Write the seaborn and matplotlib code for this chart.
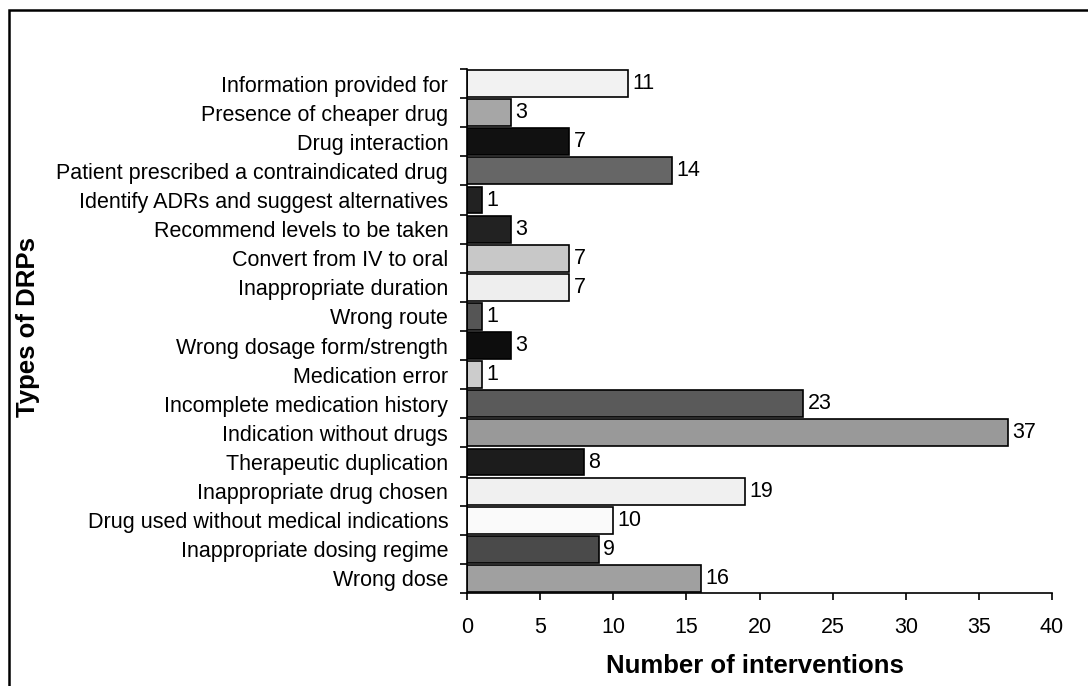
import matplotlib
matplotlib.use("Agg")
import matplotlib.pyplot as plt
from matplotlib.patches import Rectangle
import seaborn as sns
import pandas as pd

# Drug-related problem categories (top to bottom) and intervention counts
categories = [
    "Information provided for",
    "Presence of cheaper drug",
    "Drug interaction",
    "Patient prescribed a contraindicated drug",
    "Identify ADRs and suggest alternatives",
    "Recommend levels to be taken",
    "Convert from IV to oral",
    "Inappropriate duration",
    "Wrong route",
    "Wrong dosage form/strength",
    "Medication error",
    "Incomplete medication history",
    "Indication without drugs",
    "Therapeutic duplication",
    "Inappropriate drug chosen",
    "Drug used without medical indications",
    "Inappropriate dosing regime",
    "Wrong dose",
]
counts = [11, 3, 7, 14, 1, 3, 7, 7, 1, 3, 1, 23, 37, 8, 19, 10, 9, 16]
bar_colors = [
    "#f2f2f2", "#a6a6a6", "#111111", "#666666", "#222222", "#222222",
    "#c8c8c8", "#eeeeee", "#555555", "#0d0d0d", "#cccccc", "#5a5a5a",
    "#999999", "#1c1c1c", "#f0f0f0", "#fafafa", "#4a4a4a", "#a0a0a0",
]
x_ticks = [0, 5, 10, 15, 20, 25, 30, 35, 40]

df = pd.DataFrame({"type": categories, "n": counts})

sns.set_theme(style="white")
plt.rcParams["font.family"] = ["Liberation Sans", "DejaVu Sans"]
plt.rcParams.update({
    "text.color": "black",
    "axes.labelcolor": "black",
    "xtick.color": "black",
    "ytick.color": "black",
})

TICK_FS = 15.5
fig = plt.figure(figsize=(10.88, 6.86), dpi=100)
ax = fig.add_axes([467 / 1088, 1 - 593 / 686, (1052 - 467) / 1088, (593 - 69) / 686])

sns.barplot(
    data=df, x="n", y="type", hue="type", palette=bar_colors, legend=False,
    orient="h", width=0.92, edgecolor="black", linewidth=1.2, saturation=1,
    ax=ax,
)

# value labels at the end of each bar
for i, v in enumerate(counts):
    ax.text(v + 0.3, i, str(v), va="center", ha="left", fontsize=TICK_FS,
            color="black")

ax.set_xlim(0, 40)
ax.set_ylim(len(categories) - 0.5, -0.5)
ax.set_xticks(x_ticks)
ax.set_xticklabels([str(t) for t in x_ticks], fontsize=TICK_FS)
ax.tick_params(axis="x", direction="out", length=5, width=1.2, color="black",
               bottom=True, pad=12)

# category labels without marks; marks sit on the slot boundaries
ax.set_yticks(range(len(categories)))
ax.set_yticklabels(categories, fontsize=TICK_FS)
ax.tick_params(axis="y", which="major", length=0, pad=13.5)
ax.set_yticks([i - 0.5 for i in range(len(categories) + 1)], minor=True)
ax.tick_params(axis="y", which="minor", direction="out", length=5, width=1.2,
               color="black", left=True)

for side in ["top", "right"]:
    ax.spines[side].set_visible(False)
for side in ["left", "bottom"]:
    ax.spines[side].set_color("black")
    ax.spines[side].set_linewidth(1.2)

ax.set_xlabel("")
ax.set_ylabel("")
label_font = dict(fontsize=18.5, fontweight="bold", color="black")
fig.text(755 / 1088, 1 - 666 / 686, "Number of interventions",
         ha="center", va="center", **label_font)
fig.text(28 / 1088, 1 - 327 / 686, "Types of DRPs", rotation=90,
         ha="center", va="center", **label_font)

# outer frame of the figure
fig.patches.append(Rectangle((9 / 1088, -0.05), 1.2, 1 - 10 / 686 + 0.05,
                             transform=fig.transFigure, fill=False,
                             edgecolor="black", linewidth=1.8, clip_on=False))

fig.savefig("out.png", dpi=100, facecolor="white")
